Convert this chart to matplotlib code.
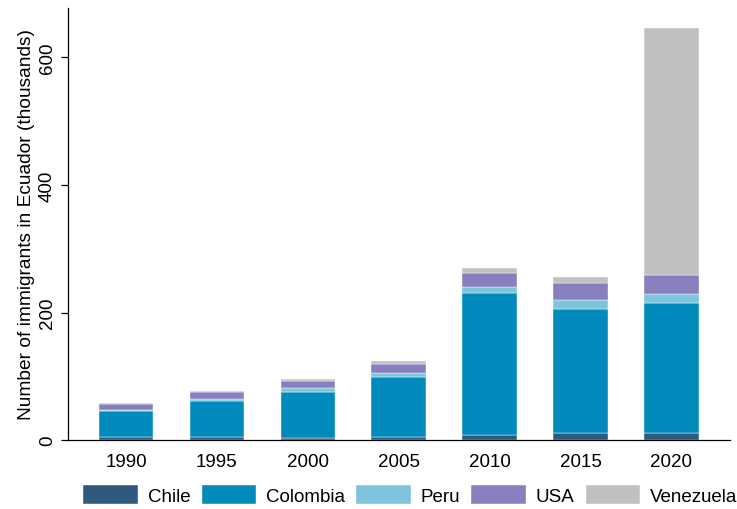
import matplotlib
matplotlib.use("Agg")
import matplotlib.pyplot as plt
import numpy as np

plt.rcParams['font.family'] = ['Liberation Sans', 'DejaVu Sans']

# Immigrants in Ecuador by origin (thousands)
years = ["1990", "1995", "2000", "2005", "2010", "2015", "2020"]
chile = [5, 4.7, 4, 5, 8.3, 11.5, 11.5]
colombia = [40, 56, 71.7, 94, 222.5, 194.5, 204]
peru = [2.5, 3.4, 5.8, 7, 10, 14, 14.3]
usa = [8.5, 10.7, 11.5, 13.5, 22, 27, 28.5]
venezuela = [3, 3, 3.6, 4.3, 6.5, 9, 388.5]

series = [("Chile", chile, "#2f5a7e"),
          ("Colombia", colombia, "#008bbc"),
          ("Peru", peru, "#7ec4de"),
          ("USA", usa, "#8880be"),
          ("Venezuela", venezuela, "#c0c0c0")]

fig = plt.figure(figsize=(7.37, 5.10), dpi=100)
ax = fig.add_axes([0.092, 0.135, 0.898, 0.848])

x = np.arange(len(years))
bottom = np.zeros(len(years))
for name, vals, col in series:
    vals = np.array(vals)
    ax.bar(x, vals, width=0.6, bottom=bottom, color=col, label=name,
           edgecolor="white", linewidth=0.3)
    bottom += vals

ax.set_xlim(-0.64, 6.64)
ax.set_ylim(0, 678)
ax.set_xticks(x)
ax.set_xticklabels(years)
ax.set_yticks([0, 200, 400, 600])
ax.set_yticklabels(["0", "200", "400", "600"], rotation=90, va="center")
ax.tick_params(axis="both", labelsize=13.5, direction="out", length=5, width=0.9)
ax.tick_params(axis="x", length=0, pad=9)
ax.set_ylabel("Number of immigrants in Ecuador (thousands)", fontsize=13.8, labelpad=3)

for s in ["top", "right"]:
    ax.spines[s].set_visible(False)
for s in ["left", "bottom"]:
    ax.spines[s].set_linewidth(0.9)

fig.legend(loc="center", bbox_to_anchor=(0.557, 0.027), ncol=5, frameon=False,
           fontsize=13.5, handlelength=2.9, handleheight=1.15, handletextpad=0.55,
           columnspacing=0.58)

fig.savefig("out.png", dpi=100)
